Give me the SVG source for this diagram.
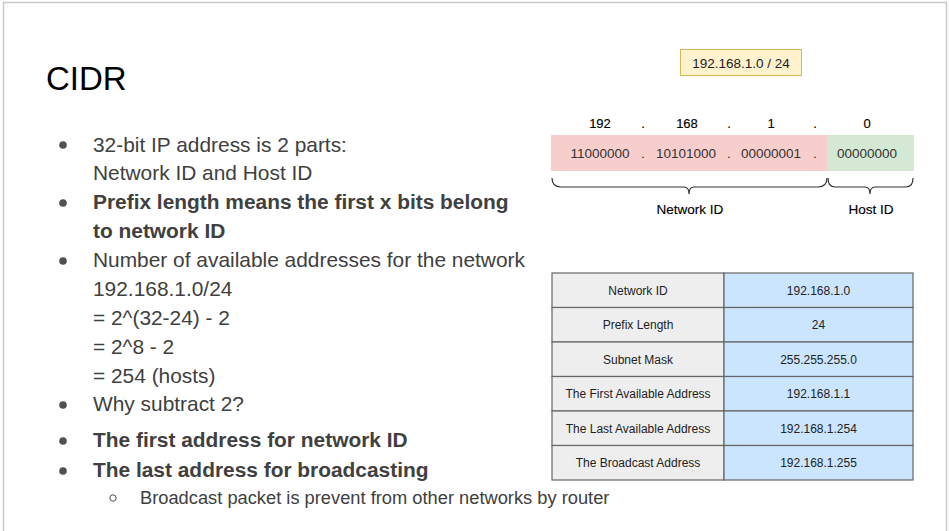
<svg xmlns="http://www.w3.org/2000/svg" width="949" height="531" viewBox="0 0 949 531">
<style>
.t{font-family:"Liberation Sans",Arial,sans-serif;}
.body{font-size:20.9px;fill:#404040;}
.sub{font-size:18.3px;fill:#404040;}
.b{font-weight:bold;}
.num{font-size:13px;fill:#000;text-anchor:middle;stroke:#000;stroke-width:0.15;}
.lbl{font-size:13.5px;fill:#000;text-anchor:middle;stroke:#000;stroke-width:0.15;}
.bin{font-size:13.5px;fill:#333;text-anchor:middle;}
.cell{font-size:12px;fill:#222;text-anchor:middle;}
.lc{fill:#eeeeee;stroke:#666;stroke-width:1.2;}
.rc{fill:#cce5ff;stroke:#666;stroke-width:1.2;}
.brace{fill:none;stroke:#333;stroke-width:1.2;}
.dot{fill:#505050;}
</style>
<rect width="949" height="531" fill="#fff"/>
<path d="M3.5,531 V2.5 H946.5 V531" fill="none" stroke="#c8c8c8" stroke-width="1.5"/>

<g id="slide-text" class="t">
<text x="46" y="90" font-size="33" fill="#000">CIDR</text>
<circle class="dot" cx="63" cy="145" r="3.8"/>
<text class="body" x="93" y="151.5">32-bit IP address is 2 parts:</text>
<text class="body" x="93" y="180">Network ID and Host ID</text>
<circle class="dot" cx="63" cy="203" r="3.8"/>
<text class="body b" x="93" y="209">Prefix length means the first x bits belong</text>
<text class="body b" x="93" y="238">to network ID</text>
<circle class="dot" cx="63" cy="261" r="3.8"/>
<text class="body" x="93" y="267">Number of available addresses for the network</text>
<text class="body" x="93" y="296">192.168.1.0/24</text>
<text class="body" x="93" y="325">= 2^(32-24) - 2</text>
<text class="body" x="93" y="354">= 2^8 - 2</text>
<text class="body" x="93" y="383">= 254 (hosts)</text>
<circle class="dot" cx="63" cy="405" r="3.8"/>
<text class="body" x="93" y="411">Why subtract 2?</text>
<circle class="dot" cx="63" cy="441" r="3.8"/>
<text class="body b" x="93" y="447">The first address for network ID</text>
<circle class="dot" cx="63" cy="471" r="3.8"/>
<text class="body b" x="93" y="477">The last address for broadcasting</text>
<circle cx="113" cy="498" r="3.2" fill="none" stroke="#505050" stroke-width="1"/>
<text class="sub" x="140" y="504">Broadcast packet is prevent from other networks by router</text>
</g>

<g id="cidr-label" class="t">
<rect x="680.5" y="49.5" width="121" height="26" fill="#fff2cc" stroke="#d6b656"/>
<text x="741" y="67.5" font-size="13.5" fill="#222" text-anchor="middle">192.168.1.0 / 24</text>
</g>

<g id="decimal" class="t">
<text class="num" x="600" y="128">192</text>
<text class="num" x="643" y="128">.</text>
<text class="num" x="687" y="128">168</text>
<text class="num" x="729" y="128">.</text>
<text class="num" x="771" y="128">1</text>
<text class="num" x="815" y="128">.</text>
<text class="num" x="867" y="128">0</text>
</g>

<g id="network-bits" class="t">
<rect x="551" y="135" width="276" height="36" fill="#f8cecc"/>
<text class="bin" x="600" y="158">11000000</text>
<text class="bin" x="643" y="158">.</text>
<text class="bin" x="686" y="158">10101000</text>
<text class="bin" x="729" y="158">.</text>
<text class="bin" x="771" y="158">00000001</text>
<text class="bin" x="815" y="158">.</text>
</g>

<g id="host-bits" class="t">
<rect x="827" y="135" width="87" height="36" fill="#d5e8d4"/>
<text class="bin" x="867" y="158">00000000</text>
</g>

<g id="connectors">
<path class="brace" d="M552,178 Q552,187 561,187 L684,187 Q689,187 689,194 Q689,187 694,187 L818,187 Q827,187 827,178"/>
<path class="brace" d="M828,178 Q828,187 835,187 L865,187 Q870,187 870,194 Q870,187 875,187 L906,187 Q913,187 913,178"/>
</g>

<g id="brace-labels" class="t">
<text class="lbl" x="690" y="214">Network ID</text>
<text class="lbl" x="871" y="214">Host ID</text>
</g>

<g id="table" class="t">
<rect class="lc" x="552" y="273" width="172" height="34.5"/>
<rect class="rc" x="724" y="273" width="189" height="34.5"/>
<text class="cell" x="638" y="294.5">Network ID</text>
<text class="cell" x="818.5" y="294.5">192.168.1.0</text>
<rect class="lc" x="552" y="307.5" width="172" height="34.5"/>
<rect class="rc" x="724" y="307.5" width="189" height="34.5"/>
<text class="cell" x="638" y="329">Prefix Length</text>
<text class="cell" x="818.5" y="329">24</text>
<rect class="lc" x="552" y="342" width="172" height="34.5"/>
<rect class="rc" x="724" y="342" width="189" height="34.5"/>
<text class="cell" x="638" y="363.5">Subnet Mask</text>
<text class="cell" x="818.5" y="363.5">255.255.255.0</text>
<rect class="lc" x="552" y="376.5" width="172" height="34.5"/>
<rect class="rc" x="724" y="376.5" width="189" height="34.5"/>
<text class="cell" x="638" y="398">The First Available Address</text>
<text class="cell" x="818.5" y="398">192.168.1.1</text>
<rect class="lc" x="552" y="411" width="172" height="34.5"/>
<rect class="rc" x="724" y="411" width="189" height="34.5"/>
<text class="cell" x="638" y="432.5">The Last Available Address</text>
<text class="cell" x="818.5" y="432.5">192.168.1.254</text>
<rect class="lc" x="552" y="445.5" width="172" height="34.5"/>
<rect class="rc" x="724" y="445.5" width="189" height="34.5"/>
<text class="cell" x="638" y="467">The Broadcast Address</text>
<text class="cell" x="818.5" y="467">192.168.1.255</text>
</g>
</svg>
